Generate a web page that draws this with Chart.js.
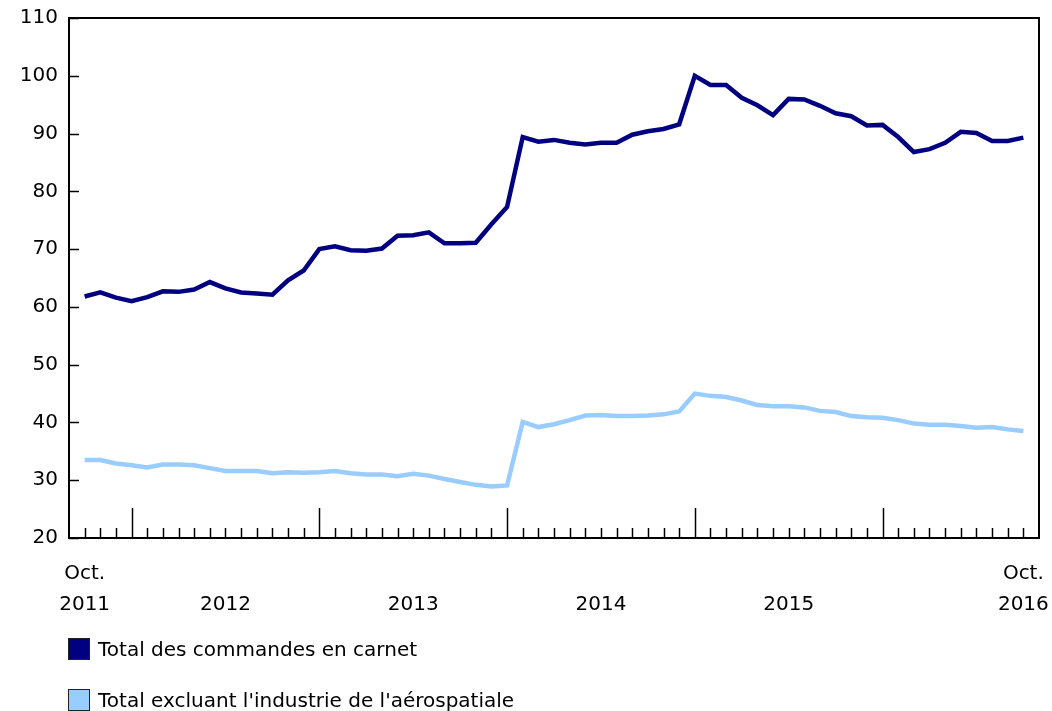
<!DOCTYPE html>
<html lang="fr">
<head>
<meta charset="utf-8">
<script src="https://cdn.jsdelivr.net/npm/chart.js@4.4.1/dist/chart.umd.min.js"></script>
<style>
  html, body { margin: 0; padding: 0; background: #fff; }
  #wrap { position: relative; width: 1052px; height: 711px; }
  #legend { position: absolute; left: 68px; top: 0; font-family: "DejaVu Sans", Verdana, sans-serif; font-size: 20px; color: #000; }
  .item { position: absolute; left: 0; white-space: nowrap; display: flex; align-items: center; }
  .box { width: 22px; height: 22px; border: 1.5px solid #222; box-sizing: border-box; margin-right: 8px; }
</style>
</head>
<body>
<div id="wrap">
  <canvas id="c" width="1052" height="711"></canvas>
  <div id="legend"></div>
</div>
<script>
// Categories: monthly, October 2011 to October 2016
const months = [
  "2011-10","2011-11","2011-12",
  "2012-01","2012-02","2012-03","2012-04","2012-05","2012-06","2012-07","2012-08","2012-09","2012-10","2012-11","2012-12",
  "2013-01","2013-02","2013-03","2013-04","2013-05","2013-06","2013-07","2013-08","2013-09","2013-10","2013-11","2013-12",
  "2014-01","2014-02","2014-03","2014-04","2014-05","2014-06","2014-07","2014-08","2014-09","2014-10","2014-11","2014-12",
  "2015-01","2015-02","2015-03","2015-04","2015-05","2015-06","2015-07","2015-08","2015-09","2015-10","2015-11","2015-12",
  "2016-01","2016-02","2016-03","2016-04","2016-05","2016-06","2016-07","2016-08","2016-09","2016-10"
];

// Series: Total des commandes en carnet
const totalCarnet = [
  61.8, 62.5, 61.6, 61.0, 61.7, 62.7, 62.6, 63.0, 64.3, 63.2, 62.5, 62.3, 62.1, 64.6, 66.3,
  70.0, 70.5, 69.8, 69.7, 70.1, 72.3, 72.4, 72.9, 71.0, 71.0, 71.1, 74.3, 77.3,
  89.4, 88.6, 88.9, 88.4, 88.1, 88.4, 88.4, 89.8, 90.4, 90.8, 91.6,
  100.0, 98.4, 98.4, 96.2, 94.9, 93.2, 96.0, 95.9, 94.8, 93.5, 93.0, 91.4, 91.5,
  89.4, 86.8, 87.3, 88.4, 90.3, 90.1, 88.7, 88.7, 89.3
];

// Series: Total excluant l'industrie de l'aérospatiale
const totalHorsAero = [
  33.5, 33.5, 32.9, 32.6, 32.2, 32.7, 32.7, 32.6, 32.1, 31.6, 31.6, 31.6, 31.2, 31.4, 31.3,
  31.4, 31.6, 31.2, 31.0, 31.0, 30.7, 31.1, 30.8, 30.2, 29.7, 29.2, 28.9, 29.1,
  40.1, 39.2, 39.7, 40.4, 41.2, 41.3, 41.1, 41.1, 41.2, 41.4, 41.9,
  45.0, 44.6, 44.4, 43.8, 43.0, 42.8, 42.8, 42.6, 42.0, 41.8, 41.1, 40.9, 40.8,
  40.4, 39.8, 39.6, 39.6, 39.4, 39.1, 39.2, 38.8, 38.5
];

const seriesNames = ["Total des commandes en carnet", "Total excluant l'industrie de l'aérospatiale"];
const seriesColors = ["#000080", "#99ccff"];

// Tick labels
const yTicks = [20, 30, 40, 50, 60, 70, 80, 90, 100, 110];
const xLabelIndex = [0, 9, 21, 33, 45, 60];
const xLabels = [["Oct.", "2011"], ["", "2012"], ["", "2013"], ["", "2014"], ["", "2015"], ["Oct.", "2016"]];

const FONT = '"DejaVu Sans", Verdana, sans-serif';

function toPoints(arr) { return arr.map((v, i) => ({ x: i, y: v })); }

const frameTicks = {
  id: 'frameTicks',
  afterDraw(chart) {
    const { ctx, chartArea: a, scales } = chart;
    const xs = scales.x, ys = scales.y;
    ctx.save();
    ctx.strokeStyle = '#000';
    ctx.lineWidth = 1.5;
    months.forEach((m, i) => {
      const px = Math.round(xs.getPixelForValue(i)) + 0.5;
      const major = m.endsWith('-01');
      ctx.beginPath();
      ctx.moveTo(px, a.bottom);
      ctx.lineTo(px, a.bottom - (major ? 30 : 10));
      ctx.stroke();
    });
    yTicks.forEach(v => {
      const py = Math.round(ys.getPixelForValue(v)) + 0.5;
      ctx.beginPath();
      ctx.moveTo(a.left, py);
      ctx.lineTo(a.left + 10, py);
      ctx.stroke();
    });
    ctx.lineWidth = 2;
    ctx.strokeRect(Math.round(a.left), Math.round(a.top), Math.round(a.right - a.left), Math.round(a.bottom - a.top));
    ctx.restore();
  }
};

new Chart(document.getElementById('c'), {
  type: 'line',
  data: {
    datasets: [
      { label: seriesNames[0], data: toPoints(totalCarnet), borderColor: seriesColors[0], backgroundColor: seriesColors[0], borderWidth: 4.5, pointRadius: 0, tension: 0 },
      { label: seriesNames[1], data: toPoints(totalHorsAero), borderColor: seriesColors[1], backgroundColor: seriesColors[1], borderWidth: 4.5, pointRadius: 0, tension: 0 }
    ]
  },
  options: {
    responsive: false,
    animation: false,
    devicePixelRatio: 1,
    layout: { padding: { top: 18, right: 13, left: 0, bottom: 0 } },
    plugins: { legend: { display: false }, tooltip: { enabled: false } },
    scales: {
      x: {
        type: 'linear', min: -1, max: 61,
        grid: { display: false, drawTicks: false },
        border: { display: false },
        afterBuildTicks: (s) => { s.ticks = xLabelIndex.map(v => ({ value: v })); },
        afterFit: (s) => { s.height = 173; s.paddingLeft = 0; s.paddingRight = 0; },
        ticks: {
          autoSkip: false, maxRotation: 0, padding: 20,
          color: '#000',
          font: { family: FONT, size: 20, lineHeight: 1.55 },
          callback: (v) => { const k = xLabelIndex.indexOf(v); return k >= 0 ? xLabels[k] : ''; }
        }
      },
      y: {
        min: 20, max: 110,
        grid: { display: false, drawTicks: false },
        border: { display: false },
        afterBuildTicks: (s) => { s.ticks = yTicks.map(v => ({ value: v })); },
        afterFit: (s) => { s.width = 69; s.paddingTop = 0; s.paddingBottom = 0; },
        ticks: { padding: 11, color: '#000', font: { family: FONT, size: 20 } }
      }
    }
  },
  plugins: [frameTicks]
});

// Legend (HTML, vertical list)
const leg = document.getElementById('legend');
const legTops = [637, 688];
seriesNames.forEach((n, i) => {
  const d = document.createElement('div');
  d.className = 'item';
  d.style.top = legTops[i] + 'px';
  const b = document.createElement('span');
  b.className = 'box';
  b.style.background = seriesColors[i];
  const t = document.createElement('span');
  t.textContent = n;
  d.appendChild(b); d.appendChild(t);
  leg.appendChild(d);
});
</script>
</body>
</html>
